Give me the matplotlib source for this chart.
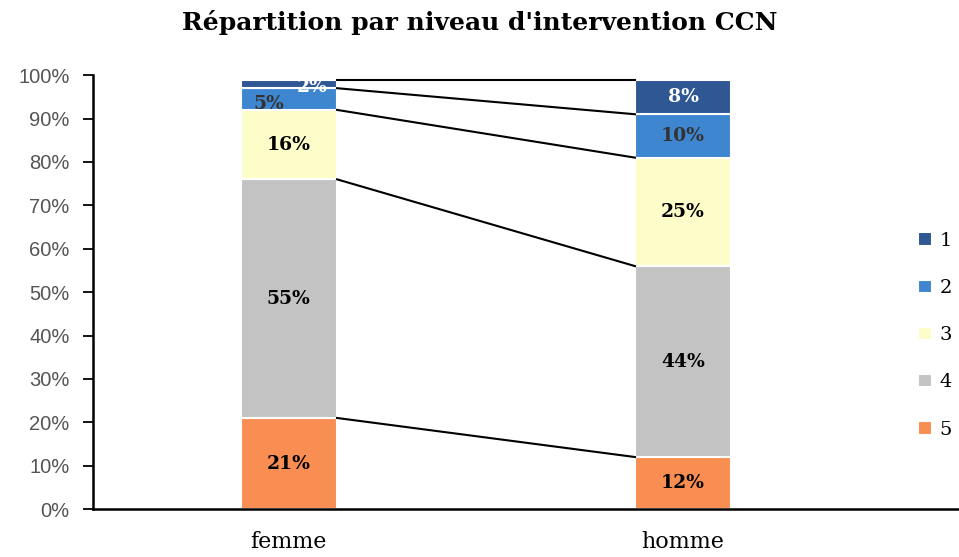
import numpy as np
import matplotlib.pyplot as plt

categories = ["femme", "homme"]
levels = ["1", "2", "3", "4", "5"]
# shares per level (%), femme then homme
level_5 = [21, 12]
level_4 = [55, 44]
level_3 = [16, 25]
level_2 = [5, 10]
level_1 = [2, 8]

colors = {"5": "#F98E52", "4": "#C3C3C3", "3": "#FDFDC9", "2": "#3F86D0", "1": "#2F5793"}
label_colors = {"5": "black", "4": "black", "3": "black", "2": "#333333", "1": "white"}

series = [("5", level_5), ("4", level_4), ("3", level_3), ("2", level_2), ("1", level_1)]

plt.rcParams["font.family"] = ["DejaVu Serif"]
fig = plt.figure(figsize=(9.59, 5.57), dpi=100)
ax = fig.add_axes([0.097, 0.086, 0.903, 0.779])

x = np.arange(len(categories))
w = 0.244
bottom = np.zeros(len(categories))
tops = []
handles = {}
for lvl, vals in series:
    vals = np.array(vals, dtype=float)
    b = ax.bar(x, vals, w, bottom=bottom, color=colors[lvl], edgecolor="white", linewidth=1.5, label=lvl)
    handles[lvl] = b
    for i, v in enumerate(vals):
        xc = x[i]
        yc = bottom[i] + v / 2
        if categories[i] == "femme" and lvl == "2":
            xc = x[i] - 0.05
            yc = bottom[i] + v / 2 - 1.2
        elif categories[i] == "femme" and lvl == "1":
            xc = x[i] + 0.06
            yc = bottom[i] + 0.3
        ax.text(xc, yc, f"{int(v)}%", ha="center", va="center", fontsize=13.5,
                fontweight="bold", color=label_colors[lvl])
    bottom = bottom + vals
    tops.append(bottom.copy())

# series lines between bars
for t in tops:
    ax.plot([x[0] + w / 2, x[1] - w / 2], [t[0], t[1]], color="black", lw=1.5)

ax.set_xlim(-0.497, 1.70)
ax.set_ylim(0, 100)
ax.set_yticks(np.arange(0, 101, 10))
ax.set_yticklabels([f"{v}%" for v in range(0, 101, 10)], fontfamily="Liberation Sans",
                   fontsize=14.5, color="#555555")
ax.set_xticks(x)
ax.set_xticklabels(categories, fontsize=16)
ax.tick_params(axis="x", length=0, pad=16)
ax.tick_params(axis="y", length=7, width=1.3, direction="out", pad=10)
for s in ["top", "right"]:
    ax.spines[s].set_visible(False)
ax.spines["left"].set_linewidth(1.8)
ax.spines["bottom"].set_linewidth(1.8)

fig.text(0.5, 0.96, "Répartition par niveau d'intervention CCN", ha="center", va="center",
         fontsize=18, fontweight="bold")

fig.legend([handles[l] for l in levels], levels, loc="center", bbox_to_anchor=(0.975, 0.398),
           frameon=False, fontsize=14, handlelength=0.7, handleheight=0.7,
           labelspacing=1.5, handletextpad=0.4)

fig.savefig("out.png", dpi=100)
